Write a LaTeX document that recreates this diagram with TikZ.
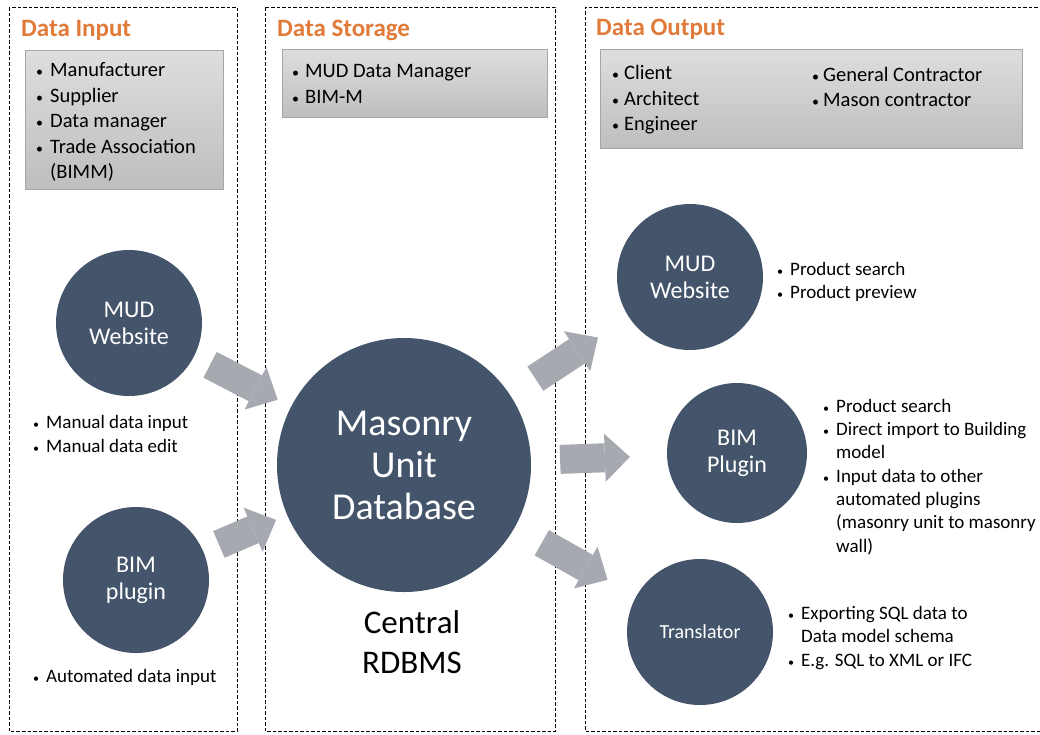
\documentclass[tikz,border=0pt]{standalone}
\usepackage{fontspec}
\setmainfont{Carlito}
\usetikzlibrary{arrows.meta}

\definecolor{slate}{HTML}{44546A}
\definecolor{arrowgray}{HTML}{A7A9B0}
\definecolor{titleorange}{HTML}{E07B39}
\definecolor{boxtop}{HTML}{DEDEDE}
\definecolor{boxbottom}{HTML}{BEBEBE}

% bullet in a box of the given width
\newcommand{\bul}[2][14]{\makebox[#2][l]{\hspace*{1pt}{\fontsize{#1}{#1}\selectfont\textbullet}}}

\begin{document}
\begin{tikzpicture}[x=1pt,y=-1pt]
    \tikzstyle{dashbox}=[draw=black,dash pattern=on 3.5pt off 2pt,line width=1pt]
    \tikzstyle{graybox}=[draw=gray!70,top color=boxtop,bottom color=boxbottom]
    \tikzstyle{heading}=[anchor=west,inner sep=0pt,text=titleorange,font=\bfseries\fontsize{25}{28}\selectfont]
    \tikzstyle{biglist}=[anchor=west,inner sep=0pt,align=left,font=\fontsize{20.5}{25.5}\selectfont]
    \tikzstyle{smalllist}=[anchor=west,inner sep=0pt,align=left,font=\fontsize{19}{23.3}\selectfont]
    \tikzstyle{disc}=[circle,fill=slate,text=white,inner sep=0pt,align=center,minimum size=146pt,font=\fontsize{24}{27}\selectfont]
    \tikzstyle{flow}=[arrowgray,line width=29pt,-{Triangle[length=25pt,width=48pt,line width=0pt]}]

    \useasboundingbox (0,0) rectangle (1040,734);

    % columns
    \draw[dashbox] (9,7) rectangle (237,731);
    \draw[dashbox] (265,7) rectangle (555,731);
    \draw[dashbox] (1040,731) -- (585,731) -- (585,7) -- (1040,7);

    \node[heading] (hin) at (21,30) {Data Input};
    \node[heading] (hstore) at (277,30) {Data Storage};
    \node[heading] (hout) at (596,29) {Data Output};

    % gray boxes
    \shade[graybox] (25,50) rectangle (223,189);
    \shade[graybox] (282,49) rectangle (547,117);
    \shade[graybox] (600,49) rectangle (1022,148);

    \node[biglist] (inlist) at (35,122) {\bul{15pt}Manufacturer\\ \bul{15pt}Supplier\\ \bul{15pt}Data manager\\ \bul{15pt}Trade Association\\ \hspace*{15pt}(BIMM)};
    \node[biglist] (storelist) at (291,84) {\bul{14pt}MUD Data Manager\\ \bul{14pt}BIM-M};
    \node[biglist] (outlistA) at (611,100) {\bul{13pt}Client\\ \bul{13pt}Architect\\ \bul{13pt}Engineer};
    \node[biglist] (outlistB) at (811,87) {\bul{12pt}General Contractor\\ \bul{12pt}Mason contractor};

    % circles
    \node[disc] (mudin) at (129,323) {MUD\\Website};
    \node[disc] (bimin) at (136,580) {BIM\\plugin};
    \node[disc,minimum size=254pt,font=\fontsize{38}{42}\selectfont] (mud) at (404,465) {Masonry\\Unit\\Database};
    \node[disc] (mudout) at (690,277) {MUD\\Website};
    \node[disc,minimum size=140pt] (bimout) at (737,453) {BIM\\Plugin};
    \node[disc,font=\fontsize{20}{24}\selectfont] (trans) at (700,632) {Translator};

    \node[inner sep=0pt,align=center,font=\fontsize{33}{40}\selectfont] (rdbms) at (412,642) {Central\\RDBMS};

    % arrows
    \foreach \from/\to/\s/\e in {mudin/mud/18pt/15pt, bimin/mud/17pt/12pt, mud/mudout/30pt/37pt, mud/bimout/29pt/37pt, mud/trans/31pt/33pt}
        \draw[flow,shorten <=\s,shorten >=\e] (\from) -- (\to);

    % notes
    \node[smalllist] (manual) at (32,434) {\bul[12]{14pt}Manual data input\\ \bul[12]{14pt}Manual data edit};
    \node[smalllist] (auto) at (32,677) {\bul[12]{14pt}Automated data input};
    \node[smalllist] (mudnote) at (776,282) {\bul[12]{14pt}Product search\\ \bul[12]{14pt}Product preview};
    \node[smalllist] (bimnote) at (822,477) {\bul[12]{14pt}Product search\\ \bul[12]{14pt}Direct import to Building\\ \hspace*{14pt}model\\ \bul[12]{14pt}Input data to other\\ \hspace*{14pt}automated plugins\\ \hspace*{14pt}(masonry unit to masonry\\ \hspace*{14pt}wall)};
    \node[smalllist] (transnote) at (787,638) {\bul[12]{14pt}Exporting SQL data to\\ \hspace*{14pt}Data model schema\\ \bul[12]{14pt}E.g. SQL to XML or IFC};
\end{tikzpicture}
\end{document}
